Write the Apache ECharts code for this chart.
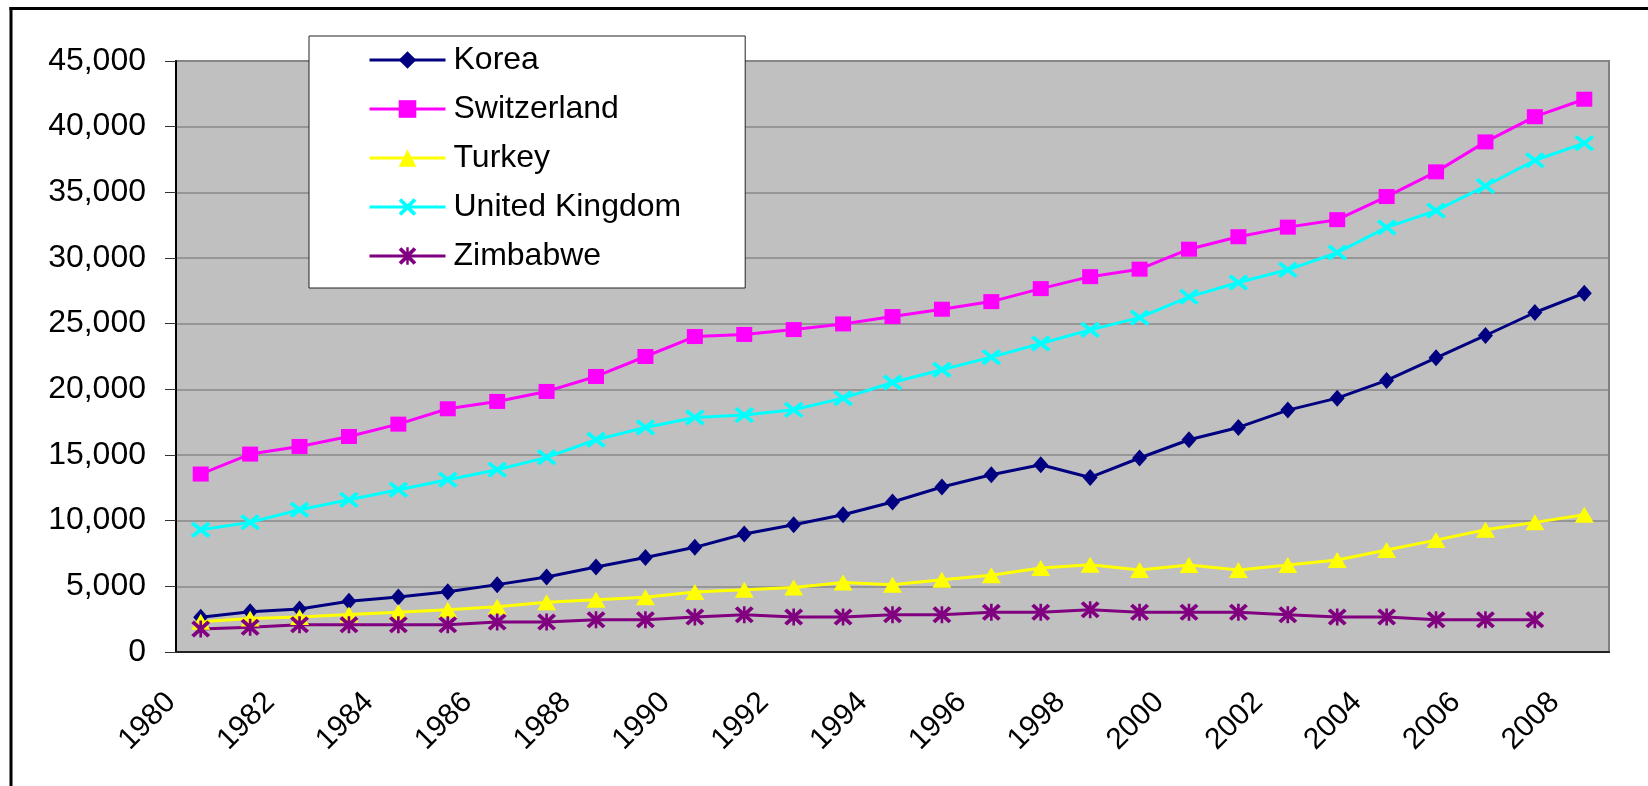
<!DOCTYPE html>
<html>
<head>
<meta charset="utf-8">
<script src="https://cdn.jsdelivr.net/npm/echarts@6/dist/echarts.min.js"></script>
<style>
  html, body { margin: 0; padding: 0; background: #fff; }
  #main { width: 1648px; height: 786px; }
</style>
</head>
<body>
<div id="main"></div>
<script>
// years on the category axis
var years = [];
for (var y = 1980; y <= 2008; y++) years.push(String(y));

// values
var korea = [2650, 3070, 3270, 3860, 4190, 4590, 5130, 5710, 6470, 7200, 7970, 8980, 9690, 10450, 11420, 12560, 13500, 14260, 13290, 14770, 16160, 17100, 18420, 19330, 20680, 22400, 24100, 25850, 27320];
var switzerland = [13550, 15070, 15650, 16410, 17350, 18520, 19080, 19840, 20980, 22500, 24020, 24180, 24550, 24980, 25540, 26100, 26680, 27670, 28580, 29150, 30670, 31620, 32350, 32920, 34680, 36560, 38840, 40760, 42090];
var turkey = [2310, 2550, 2670, 2850, 3020, 3220, 3450, 3780, 3980, 4170, 4570, 4740, 4920, 5300, 5120, 5500, 5840, 6390, 6640, 6240, 6630, 6240, 6630, 7000, 7760, 8520, 9310, 9870, 10450];
var uk = [9310, 9870, 10830, 11590, 12360, 13120, 13880, 14820, 16160, 17100, 17860, 18040, 18440, 19330, 20520, 21490, 22450, 23490, 24530, 25460, 27040, 28130, 29100, 30410, 32330, 33610, 35480, 37440, 38740];
var zimbabwe = [1750, 1880, 2080, 2080, 2080, 2080, 2280, 2280, 2460, 2460, 2660, 2840, 2660, 2660, 2840, 2840, 3020, 3030, 3220, 3030, 3030, 3030, 2840, 2660, 2660, 2460, 2460, 2460, null];

var FONT = 'Liberation Sans, Arial, sans-serif';

// marker shapes (Excel style x and asterisk)
var xMark = 'path://M0,3L3,0L10,7L17,0L20,3L13,10L20,17L17,20L10,13L3,20L0,17L7,10Z';
var starMark = 'path://M0,3L3,0L10,7L17,0L20,3L13,10L20,17L17,20L10,13L3,20L0,17L7,10Z M8.6,0L11.4,0L11.4,20L8.6,20Z';

function mkSeries(name, data, color, symbol, size) {
    return {
        name: name,
        type: 'line',
        data: data,
        symbol: symbol,
        symbolSize: size,
        showAllSymbol: true,
        lineStyle: { color: color, width: 3 },
        itemStyle: { color: color, borderWidth: 0 },
        emphasis: { disabled: true },
        animation: false
    };
}

var chart = echarts.init(document.getElementById('main'));
var option = {
    backgroundColor: '#fff',
    graphic: [
        { type: 'rect', shape: { x: 9.5, y: 7, width: 1700, height: 3 }, style: { fill: '#000' } },
        { type: 'rect', shape: { x: 9.5, y: 7, width: 3, height: 800 }, style: { fill: '#000' } }
    ],
    grid: {
        left: 176, right: 39, top: 61, bottom: 134,
        show: true,
        backgroundColor: '#C0C0C0',
        borderColor: '#808080',
        borderWidth: 2
    },
    legend: {
        orient: 'vertical',
        left: 309, top: 36,
        padding: [6, 64, 14, 59],
        backgroundColor: '#fff',
        borderColor: '#222',
        borderWidth: 1,
        itemWidth: 76,
        itemHeight: 22,
        itemGap: 13,
        selectedMode: false,
        lineStyle: { width: 3 },
        textStyle: { fontFamily: FONT, fontSize: 32, color: '#000', lineHeight: 36, padding: [0, 0, 0, 3] },
        data: ['Korea', 'Switzerland', 'Turkey', 'United Kingdom', 'Zimbabwe']
    },
    xAxis: {
        type: 'category',
        data: years,
        boundaryGap: true,
        axisLine: { lineStyle: { color: '#222', width: 2 } },
        axisTick: { interval: 0, length: 10, lineStyle: { color: '#444', width: 1.5 } },
        axisLabel: {
            interval: 1,
            rotate: 45,
            margin: 16,
            padding: [0, 42, 0, 0],
            fontFamily: FONT,
            fontSize: 30,
            color: '#000'
        },
        splitLine: { show: false }
    },
    yAxis: {
        type: 'value',
        min: 0, max: 45000, interval: 5000,
        axisLine: { show: true, lineStyle: { color: '#000', width: 2 } },
        axisTick: { show: true, length: 11, lineStyle: { color: '#333' } },
        axisLabel: {
            margin: 30,
            fontFamily: FONT,
            fontSize: 32,
            color: '#000',
            formatter: function (v) { return v.toLocaleString('en-US'); }
        },
        splitLine: { lineStyle: { color: '#888', width: 1.5 } }
    },
    series: [
        mkSeries('Korea', korea, '#000080', 'diamond', [15, 17]),
        mkSeries('Switzerland', switzerland, '#FF00FF', 'rect', [16, 15]),
        mkSeries('Turkey', turkey, '#FFFF00', 'triangle', [19, 16]),
        mkSeries('United Kingdom', uk, '#00FFFF', xMark, [20, 16]),
        mkSeries('Zimbabwe', zimbabwe, '#800080', starMark, [19, 17])
    ]
};
chart.setOption(option);
</script>
</body>
</html>
